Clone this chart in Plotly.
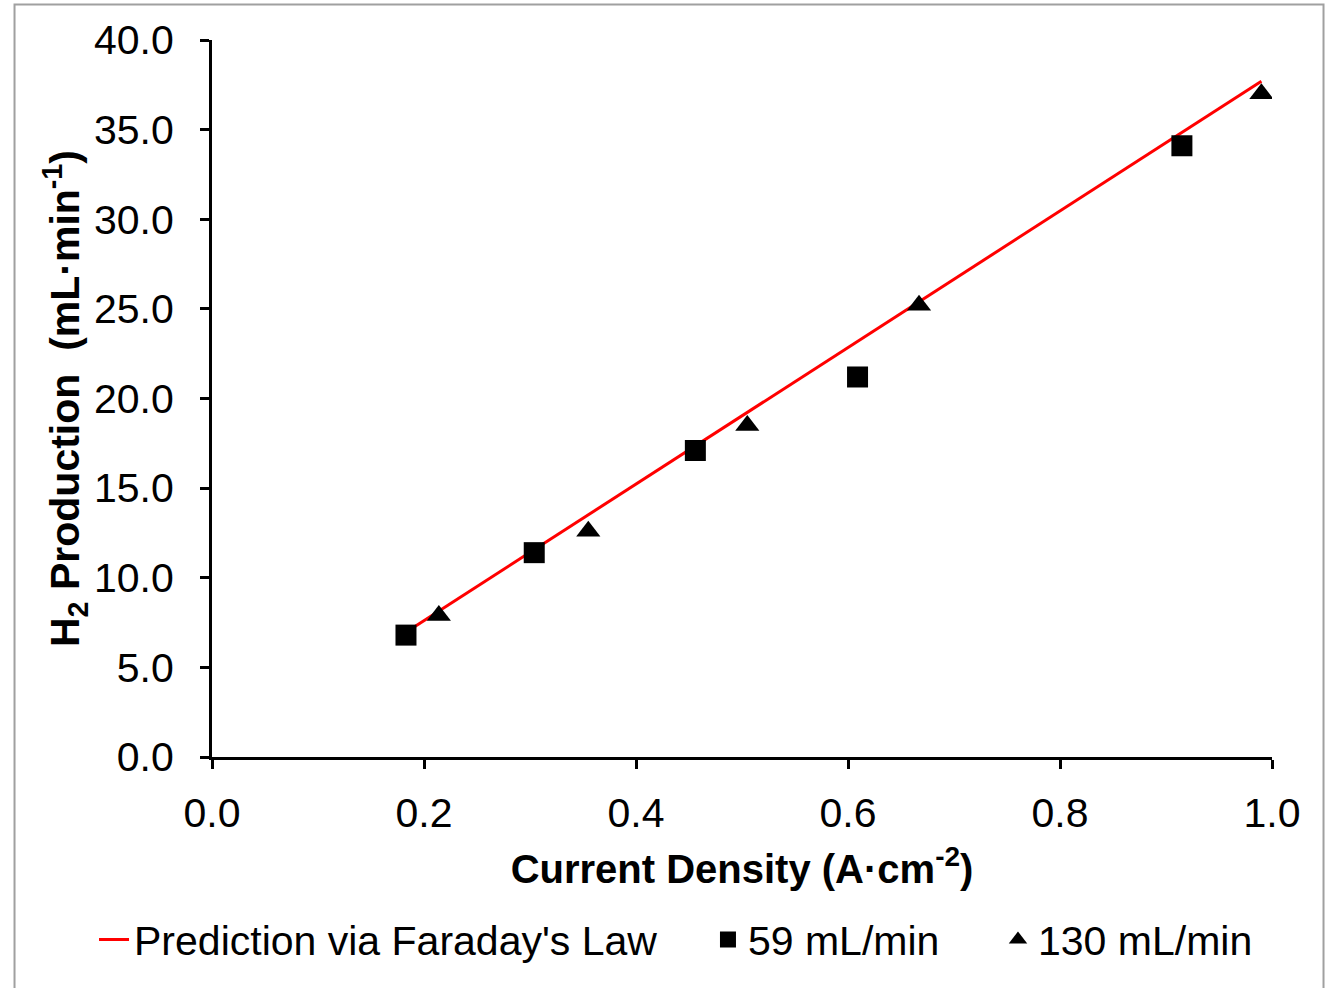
import plotly.graph_objects as go

# Measured hydrogen production vs. current density at two gas flow rates
cd_59 = [0.183, 0.304, 0.456, 0.609, 0.915]
h2_59 = [6.8, 11.4, 17.1, 21.2, 34.1]

cd_130 = [0.214, 0.355, 0.505, 0.667, 0.990]
h2_130 = [7.9, 12.6, 18.5, 25.2, 37.0]

# Faraday's-law prediction over the measured current-density span
cd_pred = [0.183, 0.990]
h2_pred = [6.96, 37.7]

x_ticks = [0.0, 0.2, 0.4, 0.6, 0.8, 1.0]
y_ticks = [0, 5, 10, 15, 20, 25, 30, 35, 40]

FONT = "Liberation Sans, Arial, sans-serif"
LEGEND_FONT = dict(family=FONT, size=41, color="black")

fig = go.Figure()
fig.add_trace(go.Scatter(
    x=cd_pred, y=h2_pred, mode="lines",
    name="Prediction via Faraday's Law",
    line=dict(color="#ff0000", width=3),
    legend="legend",
))
fig.add_trace(go.Scatter(
    x=cd_59, y=h2_59, mode="markers", name="59 mL/min",
    marker=dict(symbol="square", size=21, color="black"),
    legend="legend2",
))
fig.add_trace(go.Scatter(
    x=cd_130, y=h2_130, mode="markers", name="130 mL/min",
    marker=dict(symbol="triangle-up", size=21, color="black"),
    legend="legend3",
))

axis_common = dict(
    showline=True, linewidth=3, linecolor="black", mirror=False,
    ticks="outside", ticklen=9, tickwidth=3, tickcolor="black",
    showgrid=False, zeroline=False,
    tickfont=dict(family=FONT, size=41, color="black"),
    tickformat=".1f",
)

fig.update_xaxes(
    range=[0, 1.0], tickvals=x_ticks, ticklabelstandoff=9,
    title=dict(text="<b>Current Density (A·cm<sup>-2</sup>)</b>",
               font=dict(family=FONT, size=40, color="black"), standoff=20),
    **axis_common,
)
fig.update_yaxes(
    range=[0, 40], tickvals=y_ticks, ticklabelstandoff=18,
    title=dict(text="<b>H<sub>2</sub> Production  (mL·min<sup>-1</sup>)</b>",
               font=dict(family=FONT, size=41, color="black"), standoff=2),
    **axis_common,
)

legend_common = dict(
    orientation="h", y=-0.255, yanchor="middle", xanchor="left",
    font=LEGEND_FONT, bgcolor="rgba(0,0,0,0)",
)

fig.update_layout(
    width=1326, height=988,
    margin=dict(l=212, r=54, t=40, b=231, autoexpand=False),
    paper_bgcolor="white", plot_bgcolor="white",
    showlegend=True,
    legend=dict(x=-0.1113, **legend_common),
    legend2=dict(x=0.4679, **legend_common),
    legend3=dict(x=0.7415, **legend_common),
    shapes=[dict(
        type="rect", xref="paper", yref="paper",
        x0=-0.1863, x1=1.0486, y0=-0.34, y1=1.0495,
        line=dict(color="#a0a0a0", width=2), layer="below",
    )],
)

fig.write_html("out.html")
